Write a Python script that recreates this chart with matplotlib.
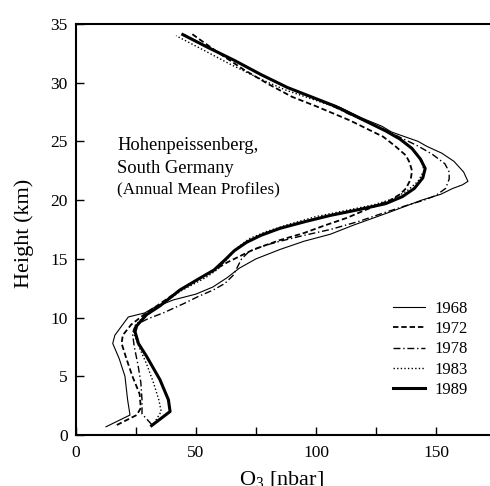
import matplotlib
matplotlib.use("Agg")
import matplotlib.pyplot as plt

plt.rcParams['font.family'] = ['Liberation Serif', 'DejaVu Serif']
plt.rcParams['mathtext.fontset'] = 'custom'
plt.rcParams['mathtext.rm'] = 'Liberation Serif'

years = ['1968', '1972', '1978', '1983', '1989']

o3_1968 = [12.5, 22.5, 21.5, 20.4, 18, 15.3, 16.2, 21.8, 28.7, 32, 40.5, 50, 57, 63, 68, 75, 85, 95,
           106, 116, 131, 144, 152, 157, 161, 163.3, 161.5, 157.5, 152.4, 146, 142.6, 131.5, 127.4,
           119, 110, 98, 88, 77, 66, 55, 45]
h_1968 = [0.7, 1.7, 3.0, 5.0, 6.5, 7.8, 8.5, 10.05, 10.4, 10.8, 11.5, 12.0, 12.6, 13.4, 14.2, 15.0, 15.8, 16.5,
          17.1, 17.9, 19.0, 20.0, 20.5, 21.0, 21.3, 21.6, 22.4, 23.3, 24.0, 24.6, 25.0, 25.8, 26.3,
          27.0, 27.9, 28.8, 29.6, 30.7, 31.9, 33.0, 34.0]

o3_1972 = [17, 25.3, 27, 26.5, 23.5, 21, 19, 19.5, 23, 28, 33, 43, 52, 58, 63, 68, 74, 85, 95, 103,
           113, 121, 126, 131, 135, 137.5, 139.5, 140, 139, 137.5, 133, 128, 121, 114, 107, 100,
           90, 80, 70, 59, 48]
h_1972 = [0.85, 1.7, 2.3, 3.5, 5.0, 6.5, 7.8, 8.5, 9.4, 10.2, 10.9, 12.3, 13.4, 14.1, 14.7, 15.2, 15.8, 16.6, 17.2, 17.8,
          18.5, 19.2, 19.6, 20.0, 20.5, 21.0, 21.8, 22.5, 23.2, 23.8, 24.6, 25.4, 26.1, 26.8, 27.4, 28.0,
          28.8, 29.9, 31.1, 32.6, 34.2]

o3_1978 = [31.5, 27.5, 27.5, 27, 25.8, 24.3, 23.5, 25, 30, 36.4, 45, 51, 57.2, 62, 65.5, 67, 69, 72,
           78, 85, 95, 106, 118, 128, 137, 145, 150, 154, 155.5, 155.5, 153.7, 148.5, 142.6, 135.5,
           128.7, 121, 114, 108, 98, 88, 77, 66, 55, 45]
h_1978 = [0.9, 1.8, 3.0, 4.5, 6.0, 7.5, 8.7, 9.4, 9.9, 10.4, 11.2, 11.8, 12.35, 12.9, 13.6, 14.2, 15.0, 15.6,
          16.1, 16.5, 17.0, 17.5, 18.2, 18.9, 19.5, 20.0, 20.4, 21.0, 21.8, 22.4, 23.1, 23.9, 24.6, 25.3,
          26.0, 26.7, 27.3, 27.9, 28.8, 29.6, 30.7, 31.9, 33.0, 34.1]

o3_1983 = [32.5, 35.5, 34.5, 32.2, 29.5, 26.7, 24, 24.5, 28, 34, 44, 54, 59, 63, 67, 72, 79, 88,
           100, 112, 124, 132, 138, 142.5, 145, 144, 139.5, 134.5, 128.5, 122, 115, 107, 97, 87,
           76, 64, 52, 41.7]
h_1983 = [1.0, 2.0, 3.0, 4.5, 6.0, 7.3, 8.7, 9.3, 10.0, 10.9, 12.3, 13.4, 14.1, 15.0, 15.9, 16.7, 17.3, 17.9,
          18.6, 19.1, 19.6, 20.1, 20.8, 21.6, 22.5, 23.4, 24.5, 25.3, 26.0, 26.6, 27.3, 28.0, 28.7, 29.4,
          30.4, 31.6, 32.9, 34.0]

o3_1989 = [31.5, 39.2, 38.5, 35, 29.4, 26, 24.6, 25.3, 29.4, 35, 43.3, 52, 57.5, 62, 66, 71, 77, 85,
           96, 106, 118, 129, 136, 141, 144.5, 145.5, 143.5, 140, 135, 129, 123, 116, 108, 98, 88,
           77, 66, 55, 44.5]
h_1989 = [0.8, 2.0, 3.0, 4.7, 6.7, 7.8, 8.8, 9.3, 10.25, 11.0, 12.35, 13.4, 14.05, 14.9, 15.7, 16.4, 17.0, 17.6,
          18.2, 18.7, 19.2, 19.7, 20.3, 21.0, 21.9, 22.7, 23.5, 24.4, 25.2, 25.9, 26.5, 27.2, 28.0, 28.8, 29.6,
          30.7, 31.9, 33.0, 34.1]

xticks_major = [0, 50, 100, 150]
xticks_minor = [25, 75, 125]
yticks = [0, 5, 10, 15, 20, 25, 30, 35]

fig = plt.figure(figsize=(4.9, 4.86), dpi=100)
ax = fig.add_axes([76 / 490, 51 / 486, 420 / 490, 411 / 486])

styles = [
    dict(color='black', lw=0.8, ls='-'),
    dict(color='black', lw=1.3, ls=(0, (3, 1.6))),
    dict(color='black', lw=1.0, ls=(0, (5, 2, 1, 2))),
    dict(color='black', lw=1.0, ls=(0, (1, 1.6))),
    dict(color='black', lw=2.2, ls='-'),
]
series = [(o3_1968, h_1968), (o3_1972, h_1972), (o3_1978, h_1978), (o3_1983, h_1983), (o3_1989, h_1989)]
for (x, y), st, lab in zip(series, styles, years):
    ax.plot(x, y, label=lab, **st)

ax.set_xlim(0, 175)
ax.set_ylim(0, 35)
ax.set_xticks(xticks_major)
ax.set_xticks(xticks_minor, minor=True)
ax.set_yticks(yticks)
ax.tick_params(axis='both', which='both', direction='in', length=5.5, width=1.0,
               labelsize=12.5, top=False, right=False)
ax.tick_params(axis='x', which='both', pad=7)
ax.tick_params(axis='y', pad=6)
for s in ax.spines.values():
    s.set_linewidth(1.5)

ax.set_xlabel('O$_3$ [nbar]', fontsize=16)
ax.set_ylabel('Height (km)', fontsize=16)
ax.xaxis.set_label_coords(0.49, -0.085)
ax.yaxis.set_label_coords(-0.1, 0.49)

ax.text((117 - 76) / 420, (435 - 150) / 411, 'Hohenpeissenberg,', transform=ax.transAxes,
        fontsize=13.3, va='baseline', ha='left')
ax.text((117 - 76) / 420, (435 - 173) / 411, 'South Germany', transform=ax.transAxes,
        fontsize=13.3, va='baseline', ha='left')
ax.text((117 - 76) / 420, (435 - 193.5) / 411, '(Annual Mean Profiles)', transform=ax.transAxes,
        fontsize=12.3, va='baseline', ha='left')

leg = ax.legend(loc='upper left', bbox_to_anchor=((393 - 76) / 420, (435 - 301) / 411),
                frameon=False, fontsize=12, handlelength=1.9, handletextpad=0.6,
                labelspacing=0.25, borderpad=0, borderaxespad=0)

fig.savefig('out.png', dpi=100)
